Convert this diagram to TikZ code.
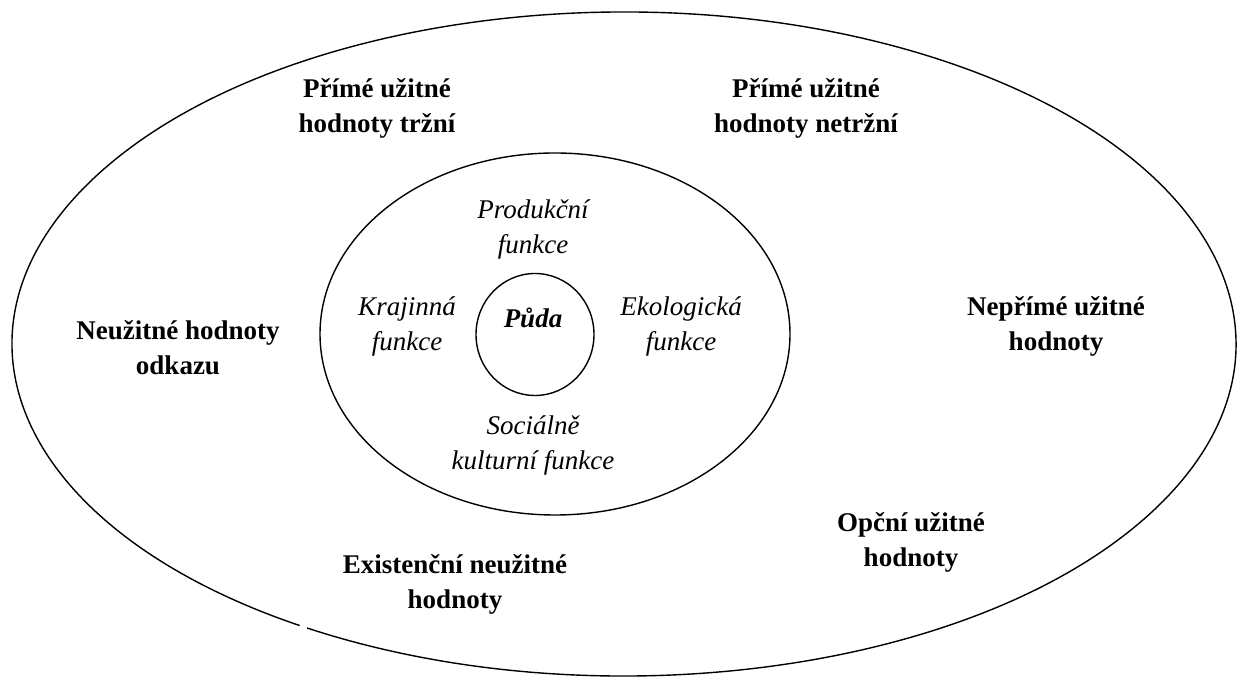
\documentclass[tikz,border=0pt]{standalone}
\usepackage{fontspec}
\setmainfont{Liberation Serif}
\begin{document}
\begin{tikzpicture}[x=1pt,y=1pt,
  ring/.style={line width=1.4pt, black},
  outerlbl/.style={align=center, font=\fontsize{27}{35}\selectfont\bfseries, inner sep=0pt},
  innerlbl/.style={align=center, font=\fontsize{27}{35}\selectfont\itshape, inner sep=0pt}]
\useasboundingbox (0,0) rectangle (1240,680);
% outer ellipse with a small gap at lower left
\draw[ring] ([shift={(238.8:612 and 332)}]624,336) arc[start angle=238.8, end angle=598.0, x radius=612, y radius=332];
% inner ellipse
\draw[ring] (555,346) ellipse [x radius=235, y radius=181];
% central circle
\draw[ring] (535,345.5) ellipse [x radius=59, y radius=61];
% outer labels
\node[outerlbl] (trzni) at (377,572) {Přímé užitné\\hodnoty tržní};
\node[outerlbl] (netrzni) at (806,572) {Přímé užitné\\hodnoty netržní};
\node[outerlbl] (odkaz) at (178,332) {Neužitné hodnoty\\odkazu};
\node[outerlbl] (neprime) at (1056,354) {Nepřímé užitné\\hodnoty};
\node[outerlbl] (opcni) at (911,138) {Opční užitné\\hodnoty};
\node[outerlbl] (exist) at (455,96) {Existenční neužitné\\hodnoty};
% inner labels
\node[innerlbl] (prod) at (533,451) {Produkční\\funkce};
\node[innerlbl] (kraj) at (407,354) {Krajinná\\funkce};
\node[innerlbl] (eko) at (681,354) {Ekologická\\funkce};
\node[innerlbl] (soc) at (533,235) {Sociálně\\kulturní funkce};
\node[anchor=base, inner sep=0pt, font=\fontsize{27}{35}\selectfont\bfseries\itshape] (puda) at (533,352) {Půda};
\end{tikzpicture}
\end{document}
